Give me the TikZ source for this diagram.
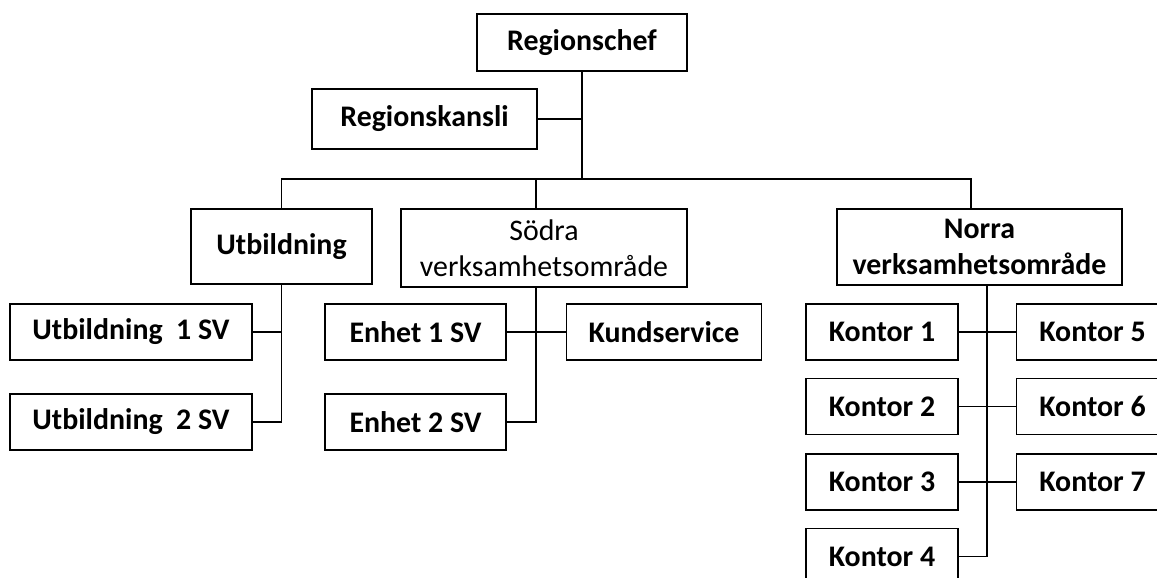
\documentclass[tikz,border=0pt]{standalone}
\usepackage{fontspec}
\setmainfont{Carlito}
\usetikzlibrary{calc}

\begin{document}
\begin{tikzpicture}[
  every node/.style={font=\fontsize{17}{20.5}\selectfont\bfseries},
  box/.style={draw, line width=1.1pt, align=center, inner sep=0pt,
    minimum height=1.12cm},
  line width=1.1pt,
]
\clip (0,0) rectangle (23.14,-11.56);

% top level
\node[box, minimum width=4.2cm, minimum height=1.14cm] (chief) at (11.64,-0.85) {Regionschef};
\node[box, minimum width=4.5cm, minimum height=1.2cm] (kansli) at (8.49,-2.38) {Regionskansli};

% areas
\node[box, minimum width=3.62cm, minimum height=1.5cm] (utb) at (5.63,-4.93) {Utbildning};
\node[box, minimum width=5.72cm, minimum height=1.56cm,
  font=\fontsize{17}{20.5}\selectfont] (sodra) at (10.88,-4.96)
  {Södra\\verksamhetsområde};
\node[box, minimum width=5.7cm, minimum height=1.52cm] (norra) at (19.59,-4.94)
  {Norra\\verksamhetsområde};

% units
\node[box, minimum width=4.84cm] (ub1) at (2.62,-6.64) {Utbildning\ \ 1 SV};
\node[box, minimum width=4.84cm] (ub2) at (2.62,-8.44) {Utbildning\ \ 2 SV};
\node[box, minimum width=3.62cm] (enh1) at (8.31,-6.64) {Enhet 1 SV};
\node[box, minimum width=3.62cm] (enh2) at (8.31,-8.44) {Enhet 2 SV};
\node[box, minimum width=3.9cm] (kund) at (13.28,-6.64) {Kundservice};

\node[box, minimum width=3.04cm] (k1) at (17.64,-6.64) {Kontor 1};
\node[box, minimum width=3.04cm] (k2) at (17.64,-8.13) {Kontor 2};
\node[box, minimum width=3.04cm] (k3) at (17.64,-9.64) {Kontor 3};
\node[box, minimum width=3.04cm] (k4) at (17.64,-11.13) {Kontor 4};
\node[box, minimum width=3.04cm] (k5) at (21.85,-6.64) {Kontor 5};
\node[box, minimum width=3.04cm] (k6) at (21.85,-8.13) {Kontor 6};
\node[box, minimum width=3.04cm] (k7) at (21.85,-9.64) {Kontor 7};

\coordinate (nd) at (19.42,-3.58);
\coordinate (sv) at ($(enh1.east)!.5!(kund.west)$);
\coordinate (nv) at ($(k1.east)!.5!(k5.west)$);

\draw (chief.south) -- (chief.south |- nd);
\draw (kansli.east) -- (kansli.east -| chief.south);
\draw (utb.north) |- (nd) -- (nd |- norra.north);
\draw (sv |- nd) -- (sv |- sodra.north);

\draw (utb.south) |- (ub2.east);
\draw (ub1.east) -- (ub1.east -| utb.south);
\draw (sv |- sodra.south) |- (enh2.east);
\draw (enh1.east) -- (kund.west);
\draw (nv |- norra.south) |- (k4.east);
\draw (k1.east) -- (k5.west);
\draw (k2.east) -- (k6.west);
\draw (k3.east) -- (k7.west);
\end{tikzpicture}
\end{document}
